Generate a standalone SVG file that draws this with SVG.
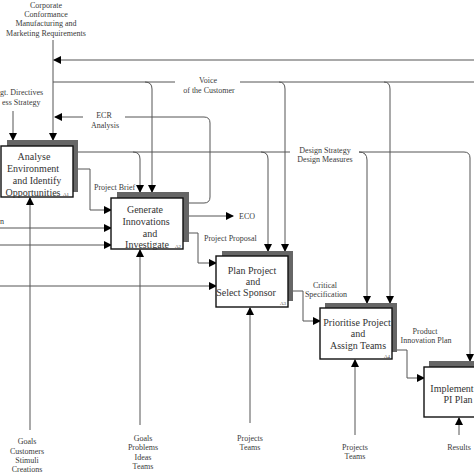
<svg xmlns="http://www.w3.org/2000/svg" width="474" height="474" viewBox="0 0 474 474">
<style>
.ln{fill:none;stroke:#555;stroke-width:1}
.sh{fill:#666;stroke:none}
.bx{fill:#fff;stroke:#111;stroke-width:1.4}
.t{font-family:"Liberation Serif",serif;font-size:10px;fill:#333;text-anchor:middle}
.l{font-family:"Liberation Serif",serif;font-size:8px;fill:#3a3a3a;text-anchor:middle}
.n{font-family:"Liberation Serif",serif;font-size:5px;fill:#444}
</style>
<defs>
<marker id="ah" markerWidth="8" markerHeight="8" refX="7" refY="4" orient="auto" markerUnits="userSpaceOnUse">
<path d="M0,0 L8,4 L0,8 Z" fill="#000"/>
</marker>
</defs>
<rect width="474" height="474" fill="#fff"/>
<g id="connectors">
<path class="ln" d="M53,40 V140" marker-end="url(#ah)"/>
<path class="ln" d="M474,60 H54" marker-end="url(#ah)"/>
<path class="ln" d="M53,82 H175"/>
<path class="ln" d="M145,82 Q152,82 152,89 V192" marker-end="url(#ah)"/>
<path class="ln" d="M240,82 H474"/>
<path class="ln" d="M279,82 Q285,82 285,89 V251" marker-end="url(#ah)"/>
<path class="ln" d="M384,82 Q390,82 390,89 V303" marker-end="url(#ah)"/>
<path class="ln" d="M189,203 H204 Q210,203 210,197 V123 Q210,117 204,117 H125"/>
<path class="ln" d="M83,117 H55" marker-end="url(#ah)"/>
<path class="ln" d="M13,111 V140" marker-end="url(#ah)"/>
<path class="ln" d="M78,152 H290"/>
<path class="ln" d="M133,152 Q140,152 140,159 V192" marker-end="url(#ah)"/>
<path class="ln" d="M261,152 Q268,152 268,159 V251" marker-end="url(#ah)"/>
<path class="ln" d="M359,152 Q367,152 367,160 V303" marker-end="url(#ah)"/>
<path class="ln" d="M359,152 H464 Q470,152 470,158 V361" marker-end="url(#ah)"/>
<path class="ln" d="M78,169 H90 V210 H111" marker-end="url(#ah)"/>
<path class="ln" d="M0,228 H111" marker-end="url(#ah)"/>
<path class="ln" d="M0,245 H111" marker-end="url(#ah)"/>
<path class="ln" d="M189,216 H233" marker-end="url(#ah)"/>
<path class="ln" d="M189,233 H198 V263 H216" marker-end="url(#ah)"/>
<path class="ln" d="M0,286 H216" marker-end="url(#ah)"/>
<path class="ln" d="M293,291 H303 V321 H320" marker-end="url(#ah)"/>
<path class="ln" d="M397,350 H407 V378 H424" marker-end="url(#ah)"/>
<path class="ln" d="M30,430 V198" marker-end="url(#ah)"/>
<path class="ln" d="M140,425 V250" marker-end="url(#ah)"/>
<path class="ln" d="M250,423 V308" marker-end="url(#ah)"/>
<path class="ln" d="M355,435 V360" marker-end="url(#ah)"/>
<path class="ln" d="M459,435 V418" marker-end="url(#ah)"/>
</g>
<g id="labels">
<text class="l" x="46" y="8">Corporate</text>
<text class="l" x="46" y="17">Conformance</text>
<text class="l" x="46" y="26">Manufacturing and</text>
<text class="l" x="46" y="36">Marketing Requirements</text>
<text class="l" x="208" y="83">Voice</text>
<text class="l" x="209" y="93">of the Customer</text>
<text class="l" x="104" y="118">ECR</text>
<text class="l" x="105" y="128">Analysis</text>
<text class="l" x="0" y="95" style="text-anchor:start">gt. Directives</text>
<text class="l" x="2" y="105" style="text-anchor:start">ess Strategy</text>
<text class="l" x="325" y="153">Design Strategy</text>
<text class="l" x="325" y="162">Design Measures</text>
<text class="l" x="94" y="190" style="text-anchor:start">Project Brief</text>
<text class="l" x="0" y="224" style="text-anchor:start">n</text>
<text class="l" x="247" y="219">ECO</text>
<text class="l" x="204" y="241" style="text-anchor:start">Project Proposal</text>
<text class="l" x="325" y="288">Critical</text>
<text class="l" x="326" y="297">Specification</text>
<text class="l" x="425" y="334">Product</text>
<text class="l" x="426" y="343">Innovation Plan</text>
<text class="l" x="27" y="444">Goals</text>
<text class="l" x="27" y="454">Customers</text>
<text class="l" x="27" y="463">Stimuli</text>
<text class="l" x="27" y="472">Creations</text>
<text class="l" x="143" y="441">Goals</text>
<text class="l" x="143" y="450">Problems</text>
<text class="l" x="143" y="460">Ideas</text>
<text class="l" x="143" y="469">Teams</text>
<text class="l" x="250" y="441">Projects</text>
<text class="l" x="250" y="450">Teams</text>
<text class="l" x="355" y="450">Projects</text>
<text class="l" x="355" y="459">Teams</text>
<text class="l" x="459" y="450">Results</text>
</g>
<g id="A1">
<rect class="sh" x="7" y="140" width="71" height="52"/>
<rect class="bx" x="1" y="146" width="72" height="51"/>
<text class="t" x="34" y="160">Analyse</text>
<text class="t" x="33" y="172">Environment</text>
<text class="t" x="37" y="184">and Identify</text>
<text class="t" x="33" y="196">Opportunities</text>
<text class="n" x="63" y="196">A1</text>
</g>
<g id="A2">
<rect class="sh" x="117" y="192" width="72" height="50"/>
<rect class="bx" x="111" y="198" width="72" height="51"/>
<text class="t" x="145" y="213">Generate</text>
<text class="t" x="146" y="225">Innovations</text>
<text class="t" x="150" y="237">and</text>
<text class="t" x="147" y="248">Investigate</text>
<text class="n" x="175" y="248">A2</text>
</g>
<g id="A3">
<rect class="sh" x="222" y="251" width="71" height="50"/>
<rect class="bx" x="216" y="256" width="72" height="51"/>
<text class="t" x="252" y="274">Plan Project</text>
<text class="t" x="253" y="285">and</text>
<text class="t" x="246" y="296">Select Sponsor</text>
<text class="n" x="280" y="305">A3</text>
</g>
<g id="A4">
<rect class="sh" x="325" y="303" width="72" height="49"/>
<rect class="bx" x="320" y="308" width="72" height="51"/>
<text class="t" x="357" y="326">Prioritise Project</text>
<text class="t" x="358" y="337">and</text>
<text class="t" x="358" y="349">Assign Teams</text>
<text class="n" x="384" y="358">A4</text>
</g>
<g id="A5">
<rect class="sh" x="429" y="361" width="72" height="50"/>
<rect class="bx" x="424" y="367" width="72" height="50"/>
<text class="t" x="452" y="392">Implement</text>
<text class="t" x="458" y="403">PI Plan</text>
</g>
</svg>
